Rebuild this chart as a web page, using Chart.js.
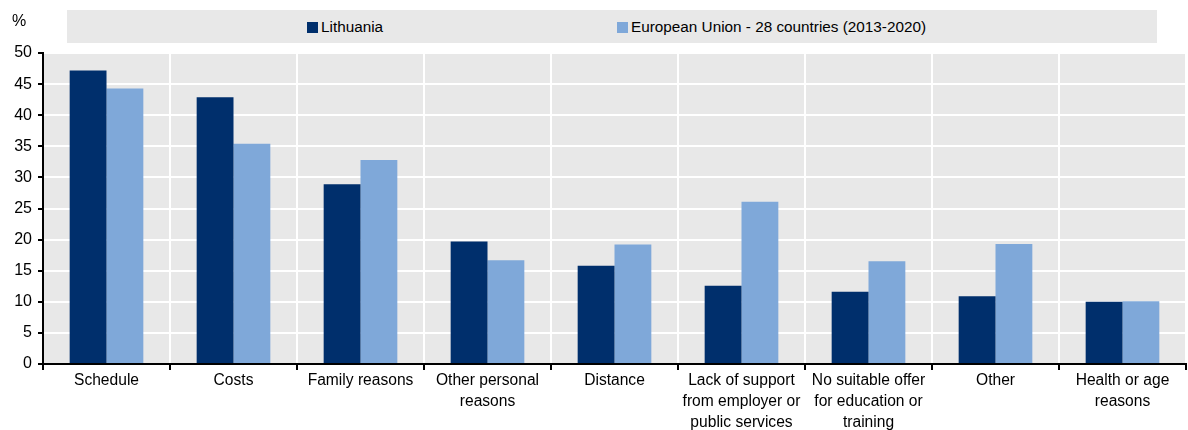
<!DOCTYPE html>
<html>
<head>
<meta charset="utf-8">
<script src="https://cdn.jsdelivr.net/npm/chart.js@4"></script>
<style>
  html, body { margin: 0; padding: 0; background: #fff; }
  #wrap { position: relative; width: 1188px; height: 430px; }
  #legend {
    position: absolute; left: 67px; top: 10px; width: 1090px; height: 33px;
    background: #e8e8e8; font-family: "Liberation Sans Narrow", "Arial Narrow", sans-serif;
    font-size: 15.3px; color: #000;
  }
  .item { position: absolute; top: 8px; white-space: nowrap; }
  .box { display: inline-block; width: 11px; height: 11px; margin-right: 3px; vertical-align: -1px; }
</style>
</head>
<body>
<div id="wrap">
  <canvas id="chart" width="1188" height="430"></canvas>
  <div id="legend"></div>
</div>
<script>
const categories = [
  "Schedule", "Costs", "Family reasons", ["Other personal", "reasons"], "Distance",
  ["Lack of support", "from employer or", "public services"],
  ["No suitable offer", "for education or", "training"],
  "Other", ["Health or age", "reasons"]
];
const lithuania = [47.2, 42.9, 28.9, 19.7, 15.8, 12.6, 11.6, 10.9, 10.0];
const eu28 = [44.3, 35.4, 32.8, 16.7, 19.2, 26.1, 16.5, 19.3, 10.1];
const seriesNames = ["Lithuania", "European Union - 28 countries (2013-2020)"];
const seriesColors = ["#002F6C", "#7FA8D9"];
const yTicks = [0, 5, 10, 15, 20, 25, 30, 35, 40, 45, 50];

const FONT = "'Liberation Sans Narrow', 'Arial Narrow', sans-serif";

const legendPos = [240, 550];
const legendEl = document.getElementById("legend");
seriesNames.forEach((name, i) => {
  const d = document.createElement("div");
  d.className = "item";
  d.style.left = legendPos[i] + "px";
  d.innerHTML = '<span class="box" style="background:' + seriesColors[i] + '"></span>' + name;
  legendEl.appendChild(d);
});

const bgPlugin = {
  id: "bg",
  beforeDraw(chart) {
    const { ctx, chartArea: a } = chart;
    ctx.save();
    ctx.fillStyle = "#e8e8e8";
    ctx.fillRect(a.left, a.top, a.right - a.left, a.bottom - a.top);
    ctx.fillStyle = "#000";
    ctx.font = "16px " + FONT;
    ctx.textAlign = "left";
    ctx.textBaseline = "middle";
    ctx.fillText("%", 12, 22);
    ctx.restore();
  }
};

new Chart(document.getElementById("chart"), {
  type: "bar",
  data: {
    labels: categories,
    datasets: [
      { label: seriesNames[0], data: lithuania, backgroundColor: seriesColors[0] },
      { label: seriesNames[1], data: eu28, backgroundColor: seriesColors[1] }
    ]
  },
  options: {
    responsive: false,
    animation: false,
    layout: { padding: { top: 53, right: 2, left: 0, bottom: 0 } },
    datasets: { bar: { categoryPercentage: 0.58, barPercentage: 1 } },
    plugins: { legend: { display: false }, tooltip: { enabled: false } },
    scales: {
      x: {
        grid: { color: "#fff", lineWidth: 2, tickColor: "#000", tickLength: 6, offset: true },
        border: { color: "#000", width: 2 },
        ticks: { color: "#000", font: { family: FONT, size: 15.6, lineHeight: "21px" }, maxRotation: 0, autoSkip: false, padding: 0 },
        afterFit(s) { s.height = 66; }
      },
      y: {
        min: 0, max: 50,
        afterBuildTicks(s) { s.ticks = yTicks.map(v => ({ value: v })); },
        grid: { color: "#fff", lineWidth: 2, tickColor: "#000", tickLength: 5 },
        border: { color: "#000", width: 2 },
        ticks: { color: "#000", font: { family: FONT, size: 16 }, padding: 6 },
        afterFit(s) { s.width = 43; }
      }
    }
  },
  plugins: [bgPlugin]
});
</script>
</body>
</html>
